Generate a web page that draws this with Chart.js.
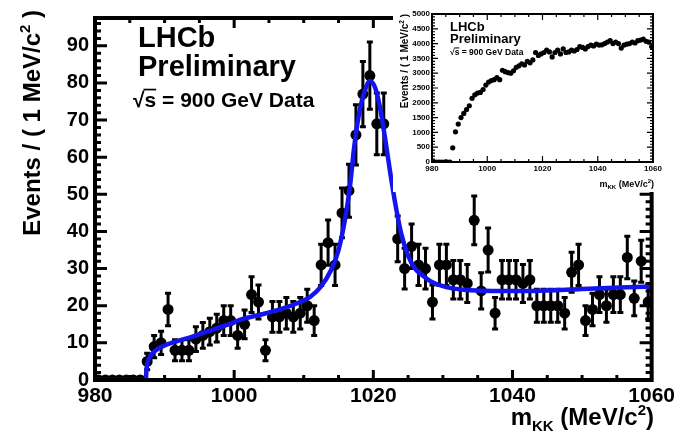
<!DOCTYPE html>
<html>
<head>
<meta charset="utf-8">
<script src="https://cdn.jsdelivr.net/npm/chart.js@4.4.1/dist/chart.umd.min.js"></script>
<style>
  html, body { margin: 0; padding: 0; background: #fff; }
  #wrap { position: relative; width: 679px; height: 439px; overflow: hidden; }
  #main { position: absolute; left: 0; top: 0; }
  #inset { position: absolute; left: 393px; top: 0; background: #fff; }
</style>
</head>
<body>
<div id="wrap">
  <canvas id="main" width="679" height="439"></canvas>
  <canvas id="inset" width="286" height="192"></canvas>
</div>
<script>
var FONT = '"Liberation Sans", Arial, Helvetica, sans-serif';

// 1 MeV bins, 980 - 1060 MeV/c^2
var binCentres = [
  980.5, 981.5, 982.5, 983.5, 984.5, 985.5, 986.5, 987.5, 988.5, 989.5,
  990.5, 991.5, 992.5, 993.5, 994.5, 995.5, 996.5, 997.5, 998.5, 999.5,
  1000.5, 1001.5, 1002.5, 1003.5, 1004.5, 1005.5, 1006.5, 1007.5, 1008.5, 1009.5,
  1010.5, 1011.5, 1012.5, 1013.5, 1014.5, 1015.5, 1016.5, 1017.5, 1018.5, 1019.5,
  1020.5, 1021.5, 1022.5, 1023.5, 1024.5, 1025.5, 1026.5, 1027.5, 1028.5, 1029.5,
  1030.5, 1031.5, 1032.5, 1033.5, 1034.5, 1035.5, 1036.5, 1037.5, 1038.5, 1039.5,
  1040.5, 1041.5, 1042.5, 1043.5, 1044.5, 1045.5, 1046.5, 1047.5, 1048.5, 1049.5,
  1050.5, 1051.5, 1052.5, 1053.5, 1054.5, 1055.5, 1056.5, 1057.5, 1058.5, 1059.5
];

// K+K- candidates per bin (phi selection)
var phiEvents = [
  0, 0, 0, 0, 0, 0, 0, 5, 9, 10,
  19, 8, 8, 8, 11, 12, 13, 14, 16, 16,
  12, 15, 23, 21, 8, 17, 17, 18, 17, 18,
  20, 16, 31, 37, 31, 45, 51, 66, 77, 82,
  69, 69, null, 38, 30, 36, 31, 30, 21, 31,
  31, 27, 27, 26, 43, 24, 35, 18, 27, 27,
  27, 26, 27, 20, 20, 20, 20, 18, 29, 31,
  16, 19, 23, 20, 23, 23, 33, 22, 32, 21
];

// inclusive K+K- spectrum shown in the inset
var insetEvents = [
  0, 0, 0, 0, 0, 0, 0, 480, 1020, 1280,
  1500, 1640, 1770, 1900, 2150, 2270, 2330, 2350, 2450, 2600,
  2700, 2750, 2780, 2850, 2780, 3100, 3050, 3020, 3000, 3080,
  3200, 3250, 3320, 3280, 3400, 3350, 3450, 3700, 3600, 3650,
  3700, 3780, 3720, 3550, 3700, 3780, 3650, 3820, 3700, 3720,
  3780, 3750, 3800, 3900, 3870, 3820, 3900, 3950, 3920, 3980,
  3950, 3960, 4000, 4050, 4100, 4000, 4050, 4000, 3850, 3950,
  3980, 4000, 4050, 4020, 4100, 4120, 4150, 4080, 4050, 3900
];

// fitted signal + background curve
var fitMass = [980, 987.3, 987.4, 987.6, 988, 988.5, 989, 990, 991, 994, 997, 999.5,
  1001, 1004, 1007, 1009.5, 1011, 1012.4, 1013.9, 1015, 1016, 1016.7, 1017.2, 1017.7,
  1018.2, 1018.7, 1019.5, 1020.3, 1021, 1021.7, 1022.5, 1023.3, 1024, 1025, 1026, 1027,
  1028.5, 1030.5, 1033, 1037, 1043, 1050, 1060];
var fitEvents = [0, 0, 3, 5, 6.5, 7.6, 8.4, 9.3, 10, 11.7, 13.6, 15.2,
  16.3, 17.7, 19.3, 21, 22.5, 25, 29.5, 35, 44, 53, 62, 69,
  74, 77.5, 80.5, 78.5, 73, 65, 55, 46, 39.5, 33.5, 30, 28.3,
  26.3, 25, 24.3, 24, 24, 24.5, 25.2];

var massTicks = [980, 1000, 1020, 1040, 1060];
var eventTicks = [0, 10, 20, 30, 40, 50, 60, 70, 80, 90];
var insetEventTicks = [0, 500, 1000, 1500, 2000, 2500, 3000, 3500, 4000, 4500, 5000];

function pairs(xs, ys) {
  return xs.map(function (x, i) { return { x: x, y: ys[i] }; });
}

function tickList(values) {
  return function (axis) {
    axis.ticks = values.map(function (v) { return { value: v }; });
  };
}

// plain numbers, no thousands separator
function plain(value) {
  return String(value);
}

// text with sub/superscripts, parts = [{t, size, dy}]
function partsWidth(ctx, parts) {
  var w = 0;
  parts.forEach(function (p) {
    ctx.font = 'bold ' + p.size + 'px ' + FONT;
    w += ctx.measureText(p.t).width;
  });
  return w;
}
function drawParts(ctx, parts, x, y) {
  parts.forEach(function (p) {
    ctx.font = 'bold ' + p.size + 'px ' + FONT;
    ctx.fillText(p.t, x, y + p.dy);
    x += ctx.measureText(p.t).width;
  });
}

function drawSqrtS(ctx, x, y, size) {
  ctx.font = 'bold ' + size + 'px ' + FONT;
  var wr = ctx.measureText('\u221A').width;
  var ws = ctx.measureText('s').width;
  ctx.fillText('\u221As = 900 GeV Data', x, y);
  ctx.beginPath();
  ctx.lineWidth = Math.max(1, size * 0.08);
  var top = y - size * 0.83;
  ctx.moveTo(x + wr - size * 0.05, top);
  ctx.lineTo(x + wr + ws, top);
  ctx.stroke();
}

// ROOT style frame: box plus inward ticks on all four sides
var rootFrame = {
  id: 'rootFrame',
  afterDraw: function (chart, args, o) {
    var ctx = chart.ctx, a = chart.chartArea;
    var xs = chart.scales.x, ys = chart.scales.y;
    var i, v, p, len;
    ctx.save();
    ctx.strokeStyle = '#000';
    ctx.lineWidth = o.tickWidth;
    ctx.beginPath();
    var nx = Math.round((xs.max - xs.min) / o.xMinor);
    for (i = 0; i <= nx; i++) {
      v = xs.min + i * o.xMinor;
      p = xs.getPixelForValue(v);
      len = Math.abs(v / o.xMajor - Math.round(v / o.xMajor)) < 1e-6 ? o.xMajLen : o.xMinLen;
      ctx.moveTo(p, a.bottom); ctx.lineTo(p, a.bottom - len);
      ctx.moveTo(p, a.top); ctx.lineTo(p, a.top + len);
    }
    var ny = Math.floor((ys.max - ys.min) / o.yMinor + 1e-6);
    for (i = 0; i <= ny; i++) {
      v = ys.min + i * o.yMinor;
      p = ys.getPixelForValue(v);
      len = Math.abs(v / o.yMajor - Math.round(v / o.yMajor)) < 1e-6 ? o.yMajLen : o.yMinLen;
      ctx.moveTo(a.left, p); ctx.lineTo(a.left + len, p);
      ctx.moveTo(a.right, p); ctx.lineTo(a.right - len, p);
    }
    ctx.stroke();
    ctx.lineWidth = o.lineWidth;
    ctx.strokeRect(a.left, a.top, a.right - a.left, a.bottom - a.top);
    ctx.restore();
  }
};

// sqrt(N) error bars under the markers
var poissonBars = {
  id: 'poissonBars',
  beforeDatasetsDraw: function (chart, args, o) {
    var ctx = chart.ctx, a = chart.chartArea;
    var xs = chart.scales.x, ys = chart.scales.y;
    var ds = chart.data.datasets[o.dataset];
    ctx.save();
    ctx.beginPath();
    ctx.rect(a.left, a.top, a.right - a.left, a.bottom - a.top);
    ctx.clip();
    ctx.strokeStyle = '#000';
    ctx.lineWidth = o.width;
    ctx.beginPath();
    ds.data.forEach(function (pt) {
      if (pt.y === null || pt.y <= 0) return;
      var err = Math.sqrt(pt.y);
      var px = xs.getPixelForValue(pt.x);
      var lo = ys.getPixelForValue(pt.y - err);
      var hi = ys.getPixelForValue(pt.y + err);
      ctx.moveTo(px, lo); ctx.lineTo(px, hi);
      ctx.moveTo(px - o.cap, lo); ctx.lineTo(px + o.cap, lo);
      ctx.moveTo(px - o.cap, hi); ctx.lineTo(px + o.cap, hi);
    });
    ctx.stroke();
    ctx.restore();
  }
};

var mainLabels = {
  id: 'mainLabels',
  afterDraw: function (chart) {
    var ctx = chart.ctx;
    ctx.save();
    ctx.fillStyle = '#000';
    ctx.strokeStyle = '#000';
    ctx.textAlign = 'left';
    ctx.textBaseline = 'alphabetic';
    ctx.font = 'bold 29px ' + FONT;
    ctx.fillText('LHCb', 138, 47);
    ctx.fillText('Preliminary', 138, 76);
    drawSqrtS(ctx, 133, 107, 21);

    // x title
    var xt = [{ t: 'm', size: 24, dy: 0 }, { t: 'KK', size: 15, dy: 6 },
      { t: ' (MeV/c', size: 24, dy: 0 }, { t: '2', size: 15, dy: -10 }, { t: ')', size: 24, dy: 0 }];
    drawParts(ctx, xt, 654 - partsWidth(ctx, xt), 425);

    // y title, aligned to the top of the axis
    var yt = [{ t: 'Events / ( 1 MeV/c', size: 24, dy: 0 }, { t: '2', size: 15, dy: -10 },
      { t: ' )', size: 24, dy: 0 }];
    var w = partsWidth(ctx, yt);
    ctx.translate(40, 10 + w);
    ctx.rotate(-Math.PI / 2);
    drawParts(ctx, yt, 0, 0);
    ctx.restore();
  }
};

var insetLabels = {
  id: 'insetLabels',
  afterDraw: function (chart) {
    var ctx = chart.ctx;
    ctx.save();
    ctx.fillStyle = '#000';
    ctx.strokeStyle = '#000';
    ctx.textAlign = 'left';
    ctx.textBaseline = 'alphabetic';
    ctx.font = 'bold 13px ' + FONT;
    ctx.fillText('LHCb', 57, 31);
    ctx.fillText('Preliminary', 57, 43);
    drawSqrtS(ctx, 57, 55, 8.5);

    var xt = [{ t: 'm', size: 9, dy: 0 }, { t: 'KK', size: 6, dy: 2 },
      { t: ' (MeV/c', size: 9, dy: 0 }, { t: '2', size: 6, dy: -4 }, { t: ')', size: 9, dy: 0 }];
    drawParts(ctx, xt, 261 - partsWidth(ctx, xt), 187);

    var yt = [{ t: 'Events / ( 1 MeV/c', size: 10, dy: 0 }, { t: '2', size: 6.5, dy: -4 },
      { t: ' )', size: 10, dy: 0 }];
    var w = partsWidth(ctx, yt);
    ctx.translate(15, 14 + w);
    ctx.rotate(-Math.PI / 2);
    drawParts(ctx, yt, 0, 0);
    ctx.restore();
  }
};

var mainChart = new Chart(document.getElementById('main'), {
  type: 'scatter',
  data: {
    datasets: [
      {
        label: 'Fit',
        type: 'line',
        data: pairs(fitMass, fitEvents),
        borderColor: '#1414ee',
        borderWidth: 4.5,
        pointRadius: 0,
        fill: false,
        cubicInterpolationMode: 'monotone',
        clip: 0,
        order: 0
      },
      {
        label: 'Data',
        data: pairs(binCentres, phiEvents),
        backgroundColor: '#000',
        borderWidth: 0,
        pointRadius: 5.5,
        clip: 0,
        order: 1
      }
    ]
  },
  options: {
    responsive: false,
    animation: false,
    devicePixelRatio: 1,
    layout: { padding: { top: 12, right: 27, left: 0, bottom: 0 } },
    plugins: {
      legend: { display: false },
      tooltip: { enabled: false },
      poissonBars: { dataset: 1, width: 3, cap: 3 },
      rootFrame: {
        lineWidth: 4, tickWidth: 3,
        xMajor: 20, xMinor: 5, xMajLen: 10, xMinLen: 5,
        yMajor: 10, yMinor: 2, yMajLen: 12, yMinLen: 6
      }
    },
    scales: {
      x: {
        type: 'linear', min: 980, max: 1060,
        grid: { display: false, drawTicks: false },
        border: { display: false },
        afterBuildTicks: tickList(massTicks),
        afterFit: function (s) { s.height = 59; },
        ticks: { color: '#000', padding: 4, autoSkip: false, maxRotation: 0, callback: plain,
          font: { family: FONT, size: 21, weight: 'bold' } }
      },
      y: {
        type: 'linear', min: 0, max: 97.5,
        grid: { display: false, drawTicks: false },
        border: { display: false },
        afterBuildTicks: tickList(eventTicks),
        afterFit: function (s) { s.width = 95; },
        ticks: { color: '#000', padding: 6, autoSkip: false, callback: plain,
          font: { family: FONT, size: 20, weight: 'bold' } }
      }
    }
  },
  plugins: [poissonBars, rootFrame, mainLabels]
});

var insetChart = new Chart(document.getElementById('inset'), {
  type: 'scatter',
  data: {
    datasets: [{
      label: 'All K+K-',
      data: pairs(binCentres, insetEvents),
      backgroundColor: '#000',
      borderWidth: 0,
      pointRadius: 2.6,
      clip: 0
    }]
  },
  options: {
    responsive: false,
    animation: false,
    devicePixelRatio: 1,
    layout: { padding: { top: 14, right: 26, left: 0, bottom: 0 } },
    plugins: {
      legend: { display: false },
      tooltip: { enabled: false },
      rootFrame: {
        lineWidth: 2, tickWidth: 1.2,
        xMajor: 20, xMinor: 5, xMajLen: 6, xMinLen: 3,
        yMajor: 500, yMinor: 100, yMajLen: 6, yMinLen: 3
      }
    },
    scales: {
      x: {
        type: 'linear', min: 980, max: 1060,
        grid: { display: false, drawTicks: false },
        border: { display: false },
        afterBuildTicks: tickList(massTicks),
        afterFit: function (s) { s.height = 30; },
        ticks: { color: '#000', padding: 2, autoSkip: false, maxRotation: 0, callback: plain,
          font: { family: FONT, size: 8, weight: 'bold' } }
      },
      y: {
        type: 'linear', min: 0, max: 5000,
        grid: { display: false, drawTicks: false },
        border: { display: false },
        afterBuildTicks: tickList(insetEventTicks),
        afterFit: function (s) { s.width = 39; },
        ticks: { color: '#000', padding: 2, autoSkip: false, callback: plain,
          font: { family: FONT, size: 8, weight: 'bold' } }
      }
    }
  },
  plugins: [rootFrame, insetLabels]
});
</script>
</body>
</html>
